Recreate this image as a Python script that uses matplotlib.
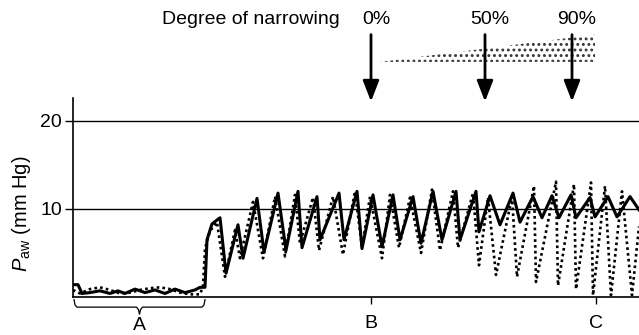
import numpy as np
import matplotlib
matplotlib.use("Agg")
import matplotlib.pyplot as plt
from matplotlib.patches import Polygon

plt.rcParams["font.family"] = ["Liberation Sans", "DejaVu Sans"]
plt.rcParams["mathtext.fontset"] = "custom"
plt.rcParams["mathtext.it"] = "Liberation Sans:italic"
plt.rcParams["mathtext.rm"] = "Liberation Sans"
plt.rcParams["hatch.linewidth"] = 1.3

# time axis in arbitrary units (0 = start of trace)
solid_t = [0, 5, 9, 17, 27, 37, 45, 52, 62, 72, 82, 92, 102, 112, 122, 127, 132,
           134, 139, 147, 153, 165, 170, 184, 191, 205, 213, 225, 229, 244, 247,
           266, 271, 284, 289, 300, 309, 320, 327, 340, 348, 360, 369, 383, 387,
           403, 406, 417, 427, 440, 447, 460, 469, 479, 486, 498, 503, 517, 522,
           535, 544, 557, 566]
solid_p = [1.4, 1.4, 0.4, 0.5, 0.7, 0.4, 0.7, 0.4, 0.9, 0.5, 0.8, 0.4, 0.9, 0.5, 0.8, 1.1, 1.1,
           6.5, 8.3, 9.0, 2.7, 8.2, 4.4, 11.2, 5.1, 11.8, 5.3, 12.0, 5.6, 11.4, 6.5,
           11.8, 6.5, 12.0, 5.5, 11.6, 5.7, 11.6, 6.5, 11.4, 6.1, 12.0, 6.5, 12.0, 6.5,
           12.0, 7.4, 11.5, 8.2, 11.8, 8.5, 11.4, 9.0, 11.5, 9.0, 11.6, 9.0, 11.3, 9.1,
           11.4, 9.1, 11.4, 9.9]

dotted_t = [0, 7, 17, 27, 37, 47, 57, 67, 77, 87, 97, 107, 117, 127, 130,
            132, 137, 144, 152, 162, 167, 180, 190, 202, 212, 222, 227, 240, 246,
            260, 270, 282, 289, 297, 309, 317, 326, 337, 348, 359, 367, 380, 385,
            400, 406, 415, 423, 439, 444, 461, 463, 483, 485, 501, 503, 518, 520,
            532, 538, 549, 559, 566]
dotted_p = [0.8, 0.4, 0.9, 1.1, 0.8, 0.4, 0.5, 0.8, 1.0, 1.1, 0.9, 0.5, 0.3, 0.3, 1.2,
            5.5, 7.5, 8.5, 2.3, 7.6, 4.4, 10.8, 4.4, 11.4, 4.6, 11.6, 6.1, 11.3, 5.3,
            11.4, 4.8, 12.0, 5.6, 11.4, 4.4, 11.6, 5.6, 11.3, 5.0, 12.2, 5.3, 12.0, 5.6,
            11.8, 3.6, 11.3, 2.5, 11.4, 2.3, 12.6, 1.7, 13.1, 1.3, 12.8, 0.9, 13.0, 0.2,
            12.6, 0.2, 12.0, 0.2, 8.0]

phase_ticks = [298, 523]
phase_labels = ["B", "C"]
baseline_span = (1, 132)   # phase A
narrow_t = [298, 412, 499]
narrow_labels = ["0%", "50%", "90%"]

fig = plt.figure(figsize=(6.39, 3.35), dpi=100)
ax = fig.add_axes([73 / 639, 1 - 297 / 335, 566 / 639, 199 / 335])
ax.set_xlim(0, 566)
ax.set_ylim(0, 22.6)

for y in (10, 20):
    ax.axhline(y, color="black", lw=1.0, zorder=1)

ax.plot(dotted_t, dotted_p, color="black", lw=1.9, ls=(0, (1, 1.2)), zorder=3)
ax.plot(solid_t, solid_p, color="black", lw=2.2, zorder=4)

for s in ("top", "right"):
    ax.spines[s].set_visible(False)
ax.spines["left"].set_linewidth(1.2)
ax.spines["bottom"].set_linewidth(1.2)

ax.set_yticks([10, 20])
ax.set_yticklabels(["10", "20"], fontsize=14)
ax.tick_params(axis="y", length=6, width=1.0, pad=2)
ax.set_xticks(phase_ticks)
ax.set_xticklabels(phase_labels, fontsize=14)
ax.tick_params(axis="x", length=5, width=1.0, pad=8)
ax.set_ylabel(r"$P_{\mathrm{aw}}$ (mm Hg)", fontsize=14.5)
ax.yaxis.set_label_coords(-0.071, 0.42)

# brace under phase A
x0, x1 = baseline_span
xm = (x0 + x1) / 2
brace_x = [x0, x0 + 1, x0 + 3, xm - 3, xm - 1, xm, xm + 1, xm + 3, x1 - 3, x1 - 1, x1]
brace_y = [-0.3, -0.9, -1.15, -1.15, -1.45, -1.95, -1.45, -1.15, -1.15, -0.9, -0.3]
ax.plot(brace_x, brace_y, color="black", lw=0.9, clip_on=False)
ax.text(xm, -3.25, "A", ha="center", va="center", fontsize=14)

# degree of narrowing arrows
for t, lab in zip(narrow_t, narrow_labels):
    ax.annotate("", xy=(t, 22.2), xytext=(t, 29.8),
                arrowprops=dict(arrowstyle="-|>,head_length=0.9,head_width=0.35",
                                lw=2, color="black", mutation_scale=14,
                                shrinkA=0, shrinkB=0),
                annotation_clip=False)
    ax.text(t + 5, 31.5, lab, ha="center", va="center", fontsize=14, clip_on=False)
ax.text(267, 31.5, "Degree of narrowing", ha="right", va="center", fontsize=14)

wedge = Polygon([[307, 26.7], [522, 29.8], [522, 26.7]], closed=True,
                facecolor="white", edgecolor="0.2", lw=0, hatch="...",
                clip_on=False, zorder=2)
ax.add_patch(wedge)

fig.savefig("out.png", dpi=100)
